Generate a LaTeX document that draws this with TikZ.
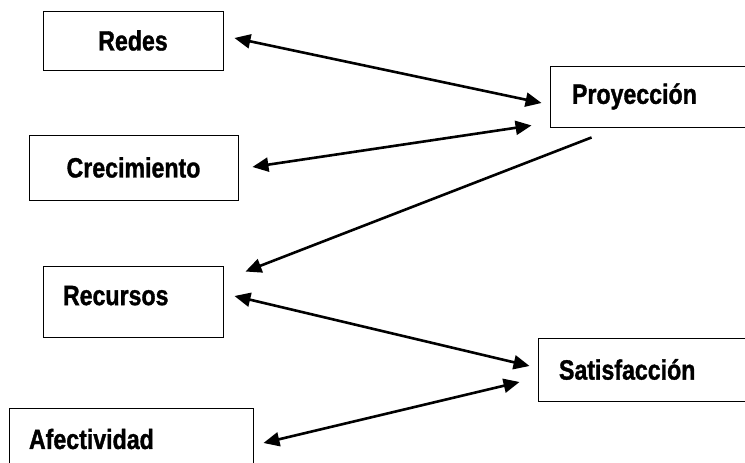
\documentclass[tikz,border=0pt]{standalone}
\usepackage{fontspec}
\newfontfamily\boxfont[FakeStretch=0.83,BoldFeatures={FakeBold=1.2}]{Liberation Sans}
\usetikzlibrary{arrows.meta,calc}

\tikzset{
  box/.style={draw, line width=0.9bp, inner ysep=0pt, font=\boxfont\bfseries\fontsize{28}{30}\selectfont},
  leftbox/.style={box, align=left, inner xsep=20bp},
  link/.style={line width=2.6bp, {Triangle[length=16bp,width=14bp]}-{Triangle[length=16bp,width=14bp]}},
  onelink/.style={line width=2.6bp, -{Triangle[length=16bp,width=14bp]}}
}

\begin{document}
\begin{tikzpicture}[x=1bp,y=-1bp]
  \useasboundingbox (0,0) rectangle (745,463);
  % left column
  \node[box, minimum width=180bp, minimum height=59bp] (redes) at (133,40.5) {Redes};
  \node[box, minimum width=209bp, minimum height=65bp] (crec) at (133.5,167.5) {Crecimiento};
  \node[leftbox, text width=140bp, minimum height=71bp] (recur) at (133,301.5) {\raisebox{6bp}[\height][0pt]{Recursos}};
  \node[leftbox, text width=204bp, minimum height=62bp] (afect) at (131,439) {Afectividad};
  % right column
  \node[leftbox, text width=166bp, minimum height=61bp, inner xsep=22bp] (proy) at (655,96.5) {Proyección};
  \node[leftbox, text width=180bp, minimum height=63bp, inner xsep=21bp] (satis) at (649,369.5) {Satisfacción};
  % connectors
  \draw[link] ($(redes.east)+(11,-2.5)$) -- ($(proy.west)+(-8,6.5)$);
  \draw[link] ($(crec.east)+(14,-0.5)$) -- ($(proy.south west)+(-18,-2)$);
  \draw[onelink] ($(proy.south west)+(42,10)$) -- ($(recur.north east)+(22,6)$);
  \draw[link] ($(recur.east)+(11,-5.5)$) -- ($(satis.west)+(-8,-3.5)$);
  \draw[link] ($(afect.east)+(10,4)$) -- ($(satis.west)+(-18,12.5)$);
\end{tikzpicture}
\end{document}
